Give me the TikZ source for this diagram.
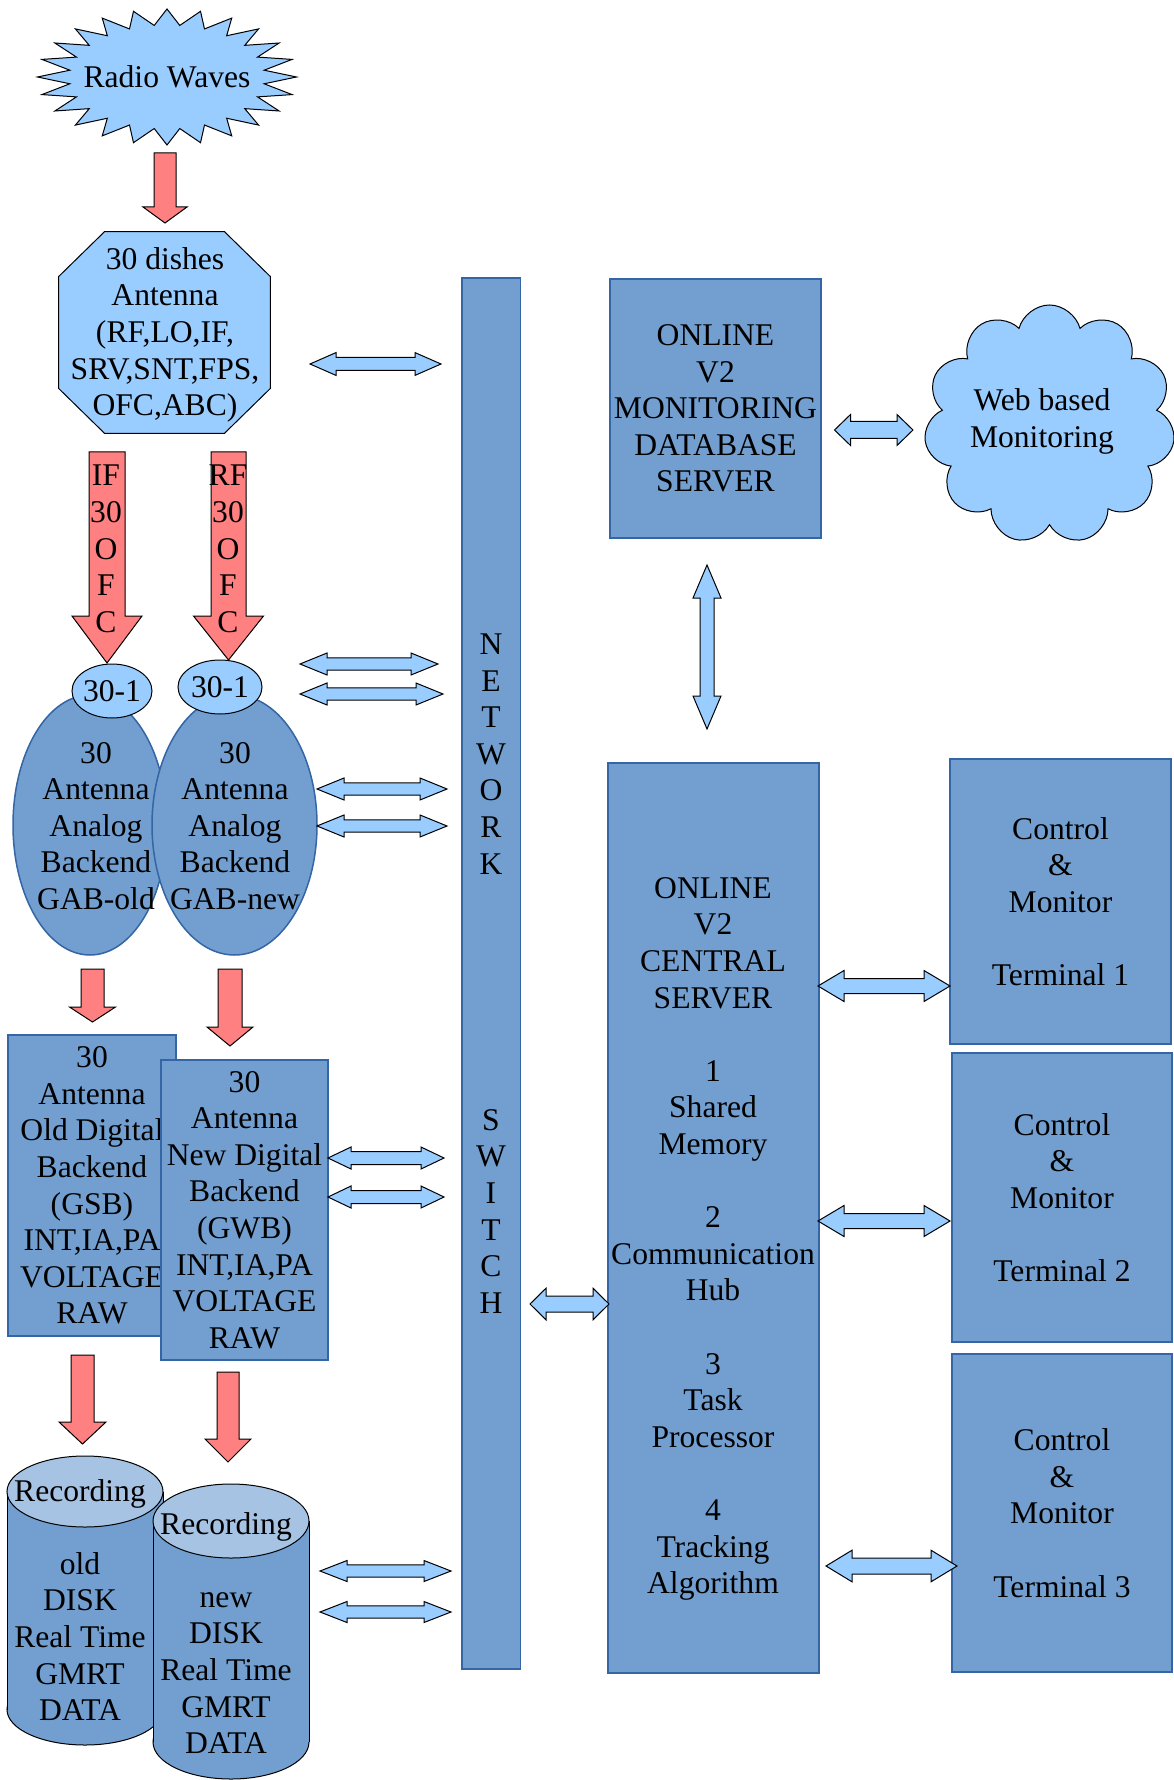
\documentclass[tikz,border=0pt]{standalone}
\usepackage{fontspec}
\setmainfont{Liberation Serif}
\usetikzlibrary{calc,shapes.geometric,shapes.symbols}
\definecolor{boxblue}{HTML}{729FCF}
\definecolor{boxline}{HTML}{3465A4}
\definecolor{skyblue}{HTML}{99CCFF}
\definecolor{arrowred}{HTML}{FF8080}
\definecolor{disktop}{HTML}{A6C3E3}
\tikzset{box/.style={draw=boxline,fill=boxblue,line width=0.75pt,inner sep=0pt,align=center}}
\tikzset{light/.style={draw=black,fill=skyblue,line width=0.5pt,inner sep=0pt}}
\tikzset{txt/.style={inner sep=0pt,align=center}}
\tikzset{fat/.style n args={3}{to path={
  ($(\tikztotarget)!#3!(\tikztostart)$) coordinate (fc)
  ($(\tikztostart)!#1!90:(\tikztotarget)$) -- ($(fc)!#1!90:(\tikztotarget)$)
  -- ($(fc)!#2!90:(\tikztotarget)$) -- (\tikztotarget)
  -- ($(fc)!#2!-90:(\tikztotarget)$) -- ($(fc)!#1!-90:(\tikztotarget)$)
  -- ($(\tikztostart)!#1!-90:(\tikztotarget)$) -- cycle}}}
\tikzset{dfat/.style n args={3}{to path={
  ($(\tikztostart)!#3!(\tikztotarget)$) coordinate (da)
  ($(\tikztotarget)!#3!(\tikztostart)$) coordinate (db)
  (\tikztostart) -- ($(da)!#2!90:(\tikztotarget)$) -- ($(da)!#1!90:(\tikztotarget)$)
  -- ($(db)!#1!90:(\tikztotarget)$) -- ($(db)!#2!90:(\tikztotarget)$) -- (\tikztotarget)
  -- ($(db)!#2!-90:(\tikztotarget)$) -- ($(db)!#1!-90:(\tikztotarget)$)
  -- ($(da)!#1!-90:(\tikztotarget)$) -- ($(da)!#2!-90:(\tikztotarget)$) -- cycle}}}
\tikzset{redfat/.style n args={3}{draw=black,fill=arrowred,line width=0.5pt,fat={#1}{#2}{#3}}}
\tikzset{bluefat/.style n args={3}{draw=black,fill=skyblue,line width=0.5pt,dfat={#1}{#2}{#3}}}

\begin{document}
\begin{tikzpicture}[x=0.5pt,y=-0.5pt,font=\fontsize{15.8}{18.3}\selectfont]
\useasboundingbox (0,0) rectangle (1173,1780);
\coordinate (rc) at (167,77);
\draw[light] ($(rc)+(0:129.5 and 68)$) \foreach \a in {15,30,...,345}{--($(rc)+(\a-7.5:98 and 52)$)--($(rc)+(\a:129.5 and 68)$)}--($(rc)+(352.5:98 and 52)$)--cycle;
\node[txt](radio) at (rc) {Radio Waves};
\node[inner sep=0pt,minimum width=105.5pt,minimum height=100.5pt](antenna) at (164.5,332.5) {};
\draw[light] ([xshift=23pt]antenna.north west) -- ([xshift=-23pt]antenna.north east) -- ([yshift=-22.5pt]antenna.north east) -- ([yshift=22.5pt]antenna.south east) -- ([xshift=-23pt]antenna.south east) -- ([xshift=23pt]antenna.south west) -- ([yshift=22.5pt]antenna.south west) -- ([yshift=-22.5pt]antenna.north west) -- cycle;
\node[txt](antennatxt) at (165,335) {30 dishes\\Antenna\\(RF,LO,IF,\\SRV,SNT,FPS,\\OFC,ABC)};
\draw[redfat={5.5pt}{11pt}{8pt}] (165,153) to (165,223);
\draw[redfat={9pt}{17.5pt}{23.5pt}] (107,452) to (107,663);
\draw[redfat={8.75pt}{17.5pt}{22pt}] (228.5,452) to (228.5,660);
\node[txt](iftxt) at (106,549) {IF\\30\\O\\F\\C};
\node[txt](rftxt) at (228,549) {RF\\30\\O\\F\\C};
\node[ellipse,box,minimum width=77pt,minimum height=130pt](gabold) at (90,825) {};
\node[ellipse,box,minimum width=82.5pt,minimum height=130pt](gabnew) at (234.5,825) {};
\node[ellipse,light,minimum width=40pt,minimum height=27pt](ofcold) at (112,691) {};
\node[ellipse,light,minimum width=42pt,minimum height=27pt](ofcnew) at (220,687) {};
\node[txt] at (ofcold) {30-1};
\node[txt] at (ofcnew) {30-1};
\node[txt](gabtxtold) at (96,826) {30\\Antenna\\Analog\\Backend\\GAB-old};
\node[txt](gabtxtnew) at (235,826) {30\\Antenna\\Analog\\Backend\\GAB-new};
\draw[redfat={5.75pt}{11.5pt}{7.5pt}] (92.5,969) to (92.5,1022);
\draw[redfat={6pt}{11.5pt}{9.5pt}] (230,969) to (230,1046);
\node[box,minimum width=84pt,minimum height=150.5pt](gsb) at (92,1185.5) {30\\Antenna\\Old Digital\\Backend\\(GSB)\\INT,IA,PA\\VOLTAGE\\RAW};
\node[box,minimum width=83.5pt,minimum height=150pt](gwb) at (244.5,1210) {30\\Antenna\\New Digital\\Backend\\(GWB)\\INT,IA,PA\\VOLTAGE\\RAW};
\draw[redfat={5.75pt}{11.75pt}{11pt}] (82.5,1355) to (82.5,1444);
\draw[redfat={5.5pt}{11.5pt}{11.5pt}] (228,1372) to (228,1462);
\draw[draw=black,fill=boxblue,line width=0.5pt] (85,1709.5) ellipse [x radius=78,y radius=35.5];
\fill[boxblue] (7,1491.5) rectangle (163,1709.5);
\draw[line width=0.5pt] (7,1491.5) -- (7,1709.5) (163,1491.5) -- (163,1709.5);
\draw[draw=black,fill=disktop,line width=0.5pt] (85,1491.5) ellipse [x radius=78,y radius=35.5];
\node[txt](olddisk) at (80,1600) {Recording\\[18.3pt]old\\DISK\\Real Time\\GMRT\\DATA};
\draw[draw=black,fill=boxblue,line width=0.5pt] (231,1742) ellipse [x radius=78,y radius=37];
\fill[boxblue] (153,1521) rectangle (309,1742);
\draw[line width=0.5pt] (153,1521) -- (153,1742) (309,1521) -- (309,1742);
\draw[draw=black,fill=disktop,line width=0.5pt] (231,1521) ellipse [x radius=78,y radius=37];
\node[txt](newdisk) at (226,1633) {Recording\\[18.3pt]new\\DISK\\Real Time\\GMRT\\DATA};
\node[box,minimum width=29.25pt,minimum height=695.5pt](switch) at (491,973.5) {N\\E\\T\\W\\O\\R\\K\\[109.8pt]S\\W\\I\\T\\C\\H};
\draw[bluefat={3.25pt}{5.7pt}{13pt}] (310,364) to (441,364);
\draw[bluefat={3.1pt}{5.5pt}{13.5pt}] (300,664) to (438,664);
\draw[bluefat={3.1pt}{5.5pt}{13.5pt}] (300,694) to (443,694);
\draw[bluefat={3.1pt}{5.5pt}{13.5pt}] (317,789) to (447,789);
\draw[bluefat={3.1pt}{5.5pt}{13.5pt}] (317,826) to (447,826);
\draw[bluefat={3.25pt}{5.5pt}{11.5pt}] (328,1158) to (444,1158);
\draw[bluefat={3.25pt}{5.5pt}{11.5pt}] (328,1197) to (444,1197);
\draw[bluefat={3.1pt}{5.25pt}{13.5pt}] (320,1571) to (451,1571);
\draw[bluefat={3.1pt}{5.25pt}{13.5pt}] (320,1612) to (451,1612);
\node[box,minimum width=105.5pt,minimum height=129.5pt](dbserver) at (715.5,408.5) {ONLINE\\V2\\MONITORING\\DATABASE\\SERVER};
\node[cloud,light,cloud puffs=11,minimum width=125.5pt,minimum height=119.5pt](webcloud) at (1049.5,424.5) {};
\node[txt](webtxt) at (1042,421.5) {Web based\\Monitoring};
\draw[bluefat={4.25pt}{7.75pt}{8pt}] (834.5,430) to (913,430);
\draw[bluefat={3.5pt}{7pt}{16.5pt}] (707,565) to (707,729);
\node[box,minimum width=105.5pt,minimum height=455pt](central) at (713.5,1218) {};
\node[txt](centraltxt) at (713,1239) {ONLINE\\V2\\CENTRAL\\SERVER\\[18.3pt]1\\Shared\\Memory\\[18.3pt]2\\Communication\\Hub\\[18.3pt]3\\Task\\Processor\\[18.3pt]4\\Tracking\\Algorithm};
\draw[bluefat={4pt}{7.9pt}{8pt}] (530,1304) to (609,1304);
\node[box,minimum width=110.5pt,minimum height=142.5pt](term1) at (1060.5,901.5) {Control\\\&\\Monitor\\[18.3pt]Terminal 1};
\node[box,minimum width=110pt,minimum height=144.5pt](term2) at (1062,1197.5) {Control\\\&\\Monitor\\[18.3pt]Terminal 2};
\node[box,minimum width=110pt,minimum height=159pt](term3) at (1062,1513) {Control\\\&\\Monitor\\[18.3pt]Terminal 3};
\draw[bluefat={3.75pt}{7.75pt}{13pt}] (818,986) to (950,986);
\draw[bluefat={3.75pt}{7.75pt}{13pt}] (818,1221) to (950,1221);
\draw[bluefat={4pt}{7.9pt}{13pt}] (826,1566) to (957,1566);
\end{tikzpicture}
\end{document}
